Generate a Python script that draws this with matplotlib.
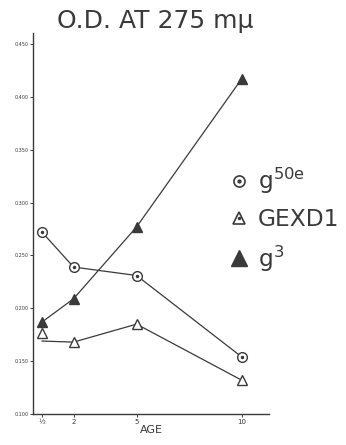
import numpy as np
import matplotlib
matplotlib.use("Agg")
import matplotlib.pyplot as plt

# values (O.D. at 275 mu vs age)
age = [0.5, 2, 5, 10]
g50e = [0.272, 0.239, 0.231, 0.154]
gexd1_line = [0.169, 0.168, 0.185, 0.132]
gexd1_first = 0.177          # lone open triangle drawn at age 1/2
g3 = [0.187, 0.209, 0.277, 0.417]

x_ticks = [0.5, 2, 5, 10]
x_ticklabels = ["½", "2", "5", "10"]
y_ticks = [0.100, 0.150, 0.200, 0.250, 0.300, 0.350, 0.400, 0.450]
y_ticklabels = ["0.100", "0.150", "0.200", "0.250", "0.300", "0.350", "0.400", "0.450"]

ink = "#3a3a3a"

W, H = 346, 445
fig = plt.figure(figsize=(W / 100, H / 100), dpi=100)
ax = fig.add_axes([33 / W, 1 - 414 / H, 236 / W, 380.6 / H])

# g50e: open circle with a dot in the middle
ax.plot(age, g50e, color=ink, lw=0.9, marker="o", ms=7, mfc="white", mec=ink, mew=1.0)
ax.plot(age, g50e, ls="none", marker="o", ms=1.5, color=ink)

# GEXD1: line starts at 1/2 without a marker, lone triangle just above it
ax.plot(age, gexd1_line, color=ink, lw=0.9, marker="^", ms=6.5, mfc="white", mec=ink,
        mew=1.0, markevery=[1, 2, 3])
ax.plot([age[0]], [gexd1_first], ls="none", marker="^", ms=6.5, mfc="white", mec=ink, mew=1.0)

# g3: filled triangles
ax.plot(age, g3, color=ink, lw=0.9, marker="^", ms=7, mfc=ink, mec=ink)

ax.set_xlim(0.07, 11.3)
ax.set_ylim(0.1, 0.46)
ax.set_xticks(x_ticks)
ax.set_xticklabels(x_ticklabels, fontsize=5, color=ink)
ax.set_yticks(y_ticks)
ax.set_yticklabels(y_ticklabels, fontsize=3.5, color=ink)
ax.tick_params(length=2, width=0.7, color=ink, pad=1.5)
for s in ["top", "right"]:
    ax.spines[s].set_visible(False)
for s in ["left", "bottom"]:
    ax.spines[s].set_color(ink)
    ax.spines[s].set_linewidth(1.0)

ax.set_xlabel("AGE", fontsize=8, color=ink, labelpad=0)

fig.text(57 / W, 1 - 28 / H, "O.D. AT 275 m\u00b5", fontsize=18, color=ink,
         ha="left", va="baseline")

# legend
h1 = ax.plot([], [], ls="none", marker="o", ms=8, mfc="white", mec=ink, mew=1.2)[0]
h1d = ax.plot([], [], ls="none", marker="o", ms=2, color=ink)[0]
h2 = ax.plot([], [], ls="none", marker="^", ms=8, mfc="white", mec=ink, mew=1.2)[0]
h2d = ax.plot([], [], ls="none", marker="o", ms=1.5, color=ink)[0]
h3 = ax.plot([], [], ls="none", marker="^", ms=11, color=ink)[0]
leg = fig.legend([(h1, h1d), (h2, h2d), h3],
                 ["g$^{\\mathrm{50e}}$", "GEXD1", "g$^{3}$"],
                 loc="upper left", bbox_to_anchor=(230 / W, 1 - 166 / H),
                 frameon=False, fontsize=16.8, handlelength=0.8, handletextpad=0.4,
                 labelspacing=0.52, borderpad=0, borderaxespad=0)
for t in leg.get_texts():
    t.set_color(ink)

fig.savefig("out.png", dpi=100)
